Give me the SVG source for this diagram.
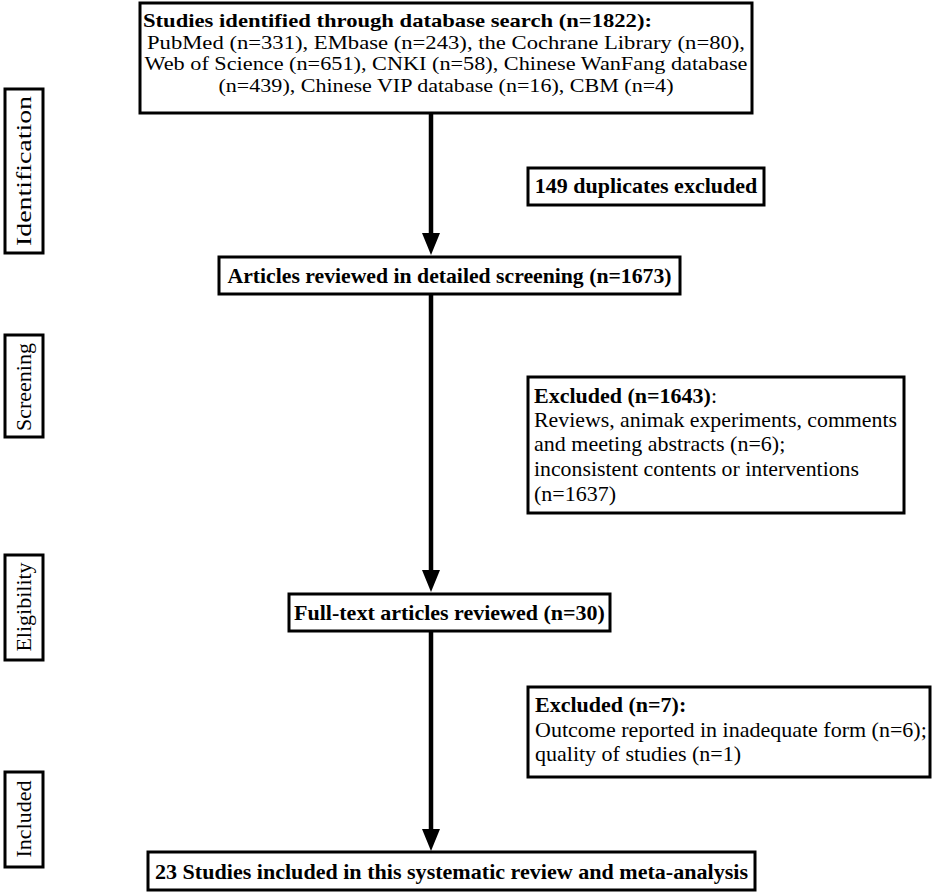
<svg xmlns="http://www.w3.org/2000/svg" width="935" height="895" viewBox="0 0 935 895">
<style>
.box{fill:#fff;stroke:#000;stroke-width:3}
.t{font-family:"Liberation Serif","Times New Roman",serif;font-size:22px;fill:#000}
.s{font-size:19.5px}
.b{font-weight:bold}
.m{text-anchor:middle}
.conn{stroke:#000;stroke-width:4.5;fill:none}
.head{fill:#000}
</style>
<rect width="935" height="895" fill="#fff"/>

<g id="connectors">
<path class="conn" d="M431,113 V235"/>
<path class="head" d="M422,233 L440,233 L431,255 Z"/>
<path class="conn" d="M431,294 V572"/>
<path class="head" d="M422,570 L440,570 L431,592 Z"/>
<path class="conn" d="M431,631 V831"/>
<path class="head" d="M422,829 L440,829 L431,851 Z"/>
</g>

<g id="label-identification">
<rect class="box" x="5" y="89" width="38" height="164"/>
<text class="t m" transform="translate(31,171) rotate(-90)" textLength="150" lengthAdjust="spacingAndGlyphs">Identification</text>
</g>
<g id="label-screening">
<rect class="box" x="5" y="335" width="38" height="102"/>
<text class="t m" transform="translate(31,387) rotate(-90)">Screening</text>
</g>
<g id="label-eligibility">
<rect class="box" x="5" y="555" width="38" height="105"/>
<text class="t m" transform="translate(31,607) rotate(-90)">Eligibility</text>
</g>
<g id="label-included">
<rect class="box" x="5" y="772" width="38" height="95"/>
<text class="t m" transform="translate(31,819) rotate(-90)">Included</text>
</g>

<g id="node-identified">
<rect class="box" x="140" y="3" width="612" height="110"/>
<text class="t s b" x="143" y="27" textLength="509" lengthAdjust="spacingAndGlyphs">Studies identified through database search (n=1822):</text>
<text class="t s m" x="446" y="48.5" textLength="598" lengthAdjust="spacingAndGlyphs">PubMed (n=331), EMbase (n=243), the Cochrane Library (n=80),</text>
<text class="t s m" x="446" y="70" textLength="603" lengthAdjust="spacingAndGlyphs">Web of Science (n=651), CNKI (n=58), Chinese WanFang database</text>
<text class="t s m" x="446" y="91.5" textLength="455" lengthAdjust="spacingAndGlyphs">(n=439), Chinese VIP database (n=16), CBM (n=4)</text>
</g>

<g id="node-duplicates">
<rect class="box" x="528" y="168" width="236" height="37"/>
<text class="t b m" x="646" y="193">149 duplicates excluded</text>
</g>

<g id="node-screening">
<rect class="box" x="219" y="257" width="461" height="37"/>
<text class="t b m" x="449.5" y="283" textLength="444" lengthAdjust="spacingAndGlyphs">Articles reviewed in detailed screening (n=1673)</text>
</g>

<g id="node-excluded1">
<rect class="box" x="528" y="377" width="376" height="136"/>
<text class="t" x="534" y="403"><tspan class="b">Excluded (n=1643)</tspan>:</text>
<text class="t" x="534" y="427" textLength="363" lengthAdjust="spacingAndGlyphs">Reviews, animak experiments, comments</text>
<text class="t" x="534" y="451">and meeting abstracts (n=6);</text>
<text class="t" x="534" y="476" textLength="325" lengthAdjust="spacingAndGlyphs">inconsistent contents or interventions</text>
<text class="t" x="534" y="501">(n=1637)</text>
</g>

<g id="node-fulltext">
<rect class="box" x="289" y="594" width="321" height="37"/>
<text class="t b m" x="449.5" y="620">Full-text articles reviewed (n=30)</text>
</g>

<g id="node-excluded2">
<rect class="box" x="528" y="687" width="402" height="90"/>
<text class="t b" x="535" y="712">Excluded (n=7):</text>
<text class="t" x="535" y="737">Outcome reported in inadequate form (n=6);</text>
<text class="t" x="535" y="761">quality of studies (n=1)</text>
</g>

<g id="node-included">
<rect class="box" x="148" y="852" width="607" height="38"/>
<text class="t b m" x="451.5" y="879" textLength="593" lengthAdjust="spacingAndGlyphs">23 Studies included in this systematic review and meta-analysis</text>
</g>
</svg>
